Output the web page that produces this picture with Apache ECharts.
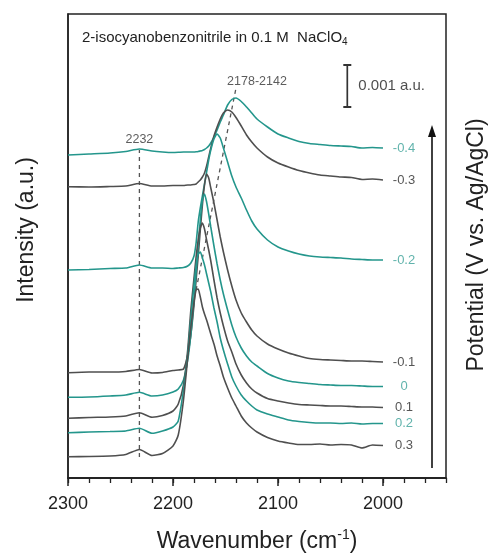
<!DOCTYPE html>
<html><head><meta charset="utf-8">
<script src="https://cdn.jsdelivr.net/npm/echarts@6/dist/echarts.min.js"></script>
<style>html,body{margin:0;padding:0;background:#fff}#c{width:488px;height:555px}</style>
</head><body><div id="c"></div>
<script>
// Wavenumber grid (cm^-1)
const wavenumbers = [2300,2280,2260,2245,2232,2220,2210,2200,2195,2190,2186,2183,2180,2178,2176,2174,2172,2170,2168,2166,2164,2161,2158,2155,2152,2148,2144,2140,2135,2130,2125,2120,2110,2100,2090,2080,2070,2060,2050,2040,2030,2020,2010,2000];
// Potentials (V vs. Ag/AgCl)
const potentials = ['-0.4','-0.3','-0.2','-0.1','0','0.1','0.2','0.3'];
// Offset intensities (arbitrary units; scale bar = 42 units = 0.001 a.u.)
const specM04 = [323,324,325,326.5,329,327,326,325.5,325.7,326,326,326,326,326.2,326.5,327,327.5,328.5,330,332,335,341,348,356,363,373,378.5,380,376.5,371,365,359,351,344,340,336.5,334.5,333.5,332.5,332,331.5,330,330.5,330];
const specM03 = [291.3,291,291.5,292,294.5,292,292,292.5,292.5,292.5,293,293,293.5,294,296,298,301,305,312,321,330,342,351,359,365,368,366,360.5,352,343,336,330,321,315,311,307.5,305,303,302,301,300.5,298.5,299,298];
const specM02 = [208,208.5,209.5,210,213,210,210,209.5,210,210.5,212,215,222,235,256,270,282,294,306,318,328,339,344,340,330,316,302,291,280,268,257,249,238,231,227,224,222,221,220.5,220,219,218.5,218,218];
const specM01 = [105.3,106,106,106.5,108.5,105,105.5,107.5,108,109,123,143,173,198,222,248,273,293,304,300,290,275,258,241,226,208,192,178,165,156,148,142,134,129,125,122,119.5,118.5,118,117.5,117,117,116.5,116];
const spec0 = [80.7,81,82,83,85.7,82,83,86,89,98,118,143,178,206,233,258,278,284,276,264,251,232,214,198,184,168,153,141,130,122,116,112,104.5,100,97,95.5,94.5,93.5,93,92.5,92.5,92,91.5,91.5];
const specP01 = [59.7,60.5,61,62,65.3,60.7,62.5,67,74,93,128,168,200,221,238,250,255,249,238,228,217,198,180,165,152,137,126,114,103,95,89,85,79.5,77,75,73.5,73,72.5,72,72,71.5,71,71,70.5];
const specP02 = [45.3,46,46.5,47,49.7,44.7,47,51,57,88,123,160,193,213,224,226,220,213,204,195,186,170,156,140,128,114,101,92,83,77,72,68,64,61,58,56.5,55.5,55,55,54.5,55,54,54.5,54.5];
const specP03 = [21.3,21.5,22,23.5,28.5,22.5,24.5,32,43,78,120,151,176,188,189,181,171,164,158,151,144,134,122,112,101,90,80,72,62,55,50,46,40.5,37,35,33.5,33.5,34,33,33.5,33,30,33,32.5];
const spectra = [specM04,specM03,specM02,specM01,spec0,specP01,specP02,specP03];
// Axis ticks
const majorTicks = [2300,2200,2100,2000];
// Annotations
const line2232 = [[2232,21],[2232,328]];
const peakShift = [[2178,188],[2140,390]];
const scaleBar = [[2034,371],[2034,413]];

const TEAL = '#24968c', GRAY = '#4f4f4f';
const TEAL_TXT = '#3aa097', GRAY_TXT = '#2b2b2b';
const FONT = 'Liberation Sans, Arial, sans-serif';
const isTeal = i => i % 2 === 0;

const chart = echarts.init(document.getElementById('c'), null, {renderer:'canvas'});
const series = [];
spectra.forEach((vals, i) => {
  const c = isTeal(i) ? TEAL : GRAY;
  series.push({
    type:'line', name: potentials[i], data: wavenumbers.map((w, j) => [w, vals[j]]),
    showSymbol:false, smooth:0.2, lineStyle:{width:1.6, color:c}, itemStyle:{color:c},
    silent:true, z:3
  });
});
series.push({
  type:'scatter', symbolSize:0, silent:true, z:4,
  data: spectra.map((vals, i) => ({
    value:[1980, vals[vals.length-1]],
    label:{show:true, position:'inside', formatter:potentials[i], color: isTeal(i) ? TEAL_TXT : GRAY_TXT, fontSize:13, fontFamily:FONT}
  }))
});
const dash = {type:'line', showSymbol:false, silent:true, z:2, lineStyle:{type:[4,4], width:1.3, color:'#555'}};
series.push(Object.assign({}, dash, {data: line2232}));
series.push(Object.assign({}, dash, {data: peakShift}));
series.push({
  type:'scatter', symbolSize:0, silent:true,
  data:[
    {value: line2232[1], label:{show:true, position:'top', distance:4, formatter:'2232', color:'#333', fontSize:12.5, fontFamily:FONT}},
    {value:[2120,396], label:{show:true, position:'inside', formatter:'2178-2142', color:'#333', fontSize:12.5, fontFamily:FONT}}
  ]
});
series.push({
  type:'line', data: scaleBar, symbol:'rect', symbolSize:[8,2], showSymbol:true, silent:true,
  lineStyle:{width:1.7, color:'#333'}, itemStyle:{color:'#333'}
});
series.push({
  type:'scatter', symbolSize:0, silent:true,
  data:[{value:[scaleBar[0][0], (scaleBar[0][1]+scaleBar[1][1])/2],
    label:{show:true, position:'right', distance:11, formatter:'0.001 a.u.', color:'#222', fontSize:15, fontFamily:FONT}}]
});

chart.setOption({
  animation:false,
  backgroundColor:'#fff',
  textStyle:{fontFamily:FONT},
  title:{
    text:'2-isocyanobenzonitrile in 0.1 M  NaClO{sub|4}', left:77, top:24,
    textStyle:{fontSize:15, fontWeight:'normal', color:'#222', fontFamily:FONT, lineHeight:18,
      rich:{sub:{fontSize:10, verticalAlign:'bottom', lineHeight:18, padding:[6,0,0,0], fontFamily:FONT, color:'#222'}}}
  },
  grid:{left:68, right:42, top:14, bottom:77, show:true, borderColor:'#222', borderWidth:1.5,
    backgroundColor:'transparent', containLabel:false, outerBoundsMode:'none'},
  xAxis:[{
    type:'value', min:1940, max:2300, inverse:true, position:'bottom',
    name:'Wavenumber (cm{sup|-1})', nameLocation:'middle', nameGap:50,
    nameTextStyle:{fontSize:23, color:'#222', fontFamily:FONT, lineHeight:28,
      rich:{sup:{fontSize:14, verticalAlign:'top', lineHeight:28, padding:[0,0,12,0], fontFamily:FONT, color:'#222'}}},
    axisLine:{show:true, lineStyle:{color:'#222', width:1.5}},
    axisTick:{show:true, inside:false, length:8, lineStyle:{color:'#222', width:1.5}, customValues: majorTicks},
    axisLabel:{fontSize:18, color:'#222', margin:17, customValues: majorTicks, fontFamily:FONT, formatter: v => String(v)},
    splitLine:{show:false}
  },{
    type:'value', min:1940, max:2300, interval:20, inverse:true, position:'bottom',
    axisLine:{show:true, lineStyle:{color:'#222', width:1.5}}, axisLabel:{show:false},
    axisTick:{show:true, inside:false, length:5, lineStyle:{color:'#222', width:1.3}},
    splitLine:{show:false}
  }],
  yAxis:{
    type:'value', min:0, max:464,
    name:'Intensity (a.u.)', nameLocation:'middle', nameGap:30,
    nameTextStyle:{fontSize:23, color:'#222', fontFamily:FONT, padding:[0,0,0,32]},
    axisLine:{show:true, lineStyle:{color:'#222', width:1.5}},
    axisTick:{show:false}, axisLabel:{show:false}, splitLine:{show:false}
  },
  graphic:[
    {type:'line', shape:{x1:432, y1:468, x2:432, y2:136}, style:{stroke:'#111', lineWidth:1.6}, silent:true},
    {type:'polygon', shape:{points:[[432,125],[428,137],[436,137]]}, style:{fill:'#111'}, silent:true},
    {type:'text', x:477, y:245, rotation:Math.PI/2, silent:true,
      style:{text:'Potential (V vs. Ag/AgCl)', fontSize:23, fill:'#222', font:'23px '+FONT, align:'center', verticalAlign:'middle'}}
  ],
  series: series
});
</script></body></html>
